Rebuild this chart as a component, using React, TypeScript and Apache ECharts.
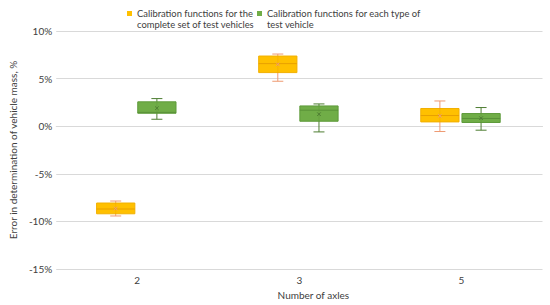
import React, { useEffect, useRef } from 'react';
import * as echarts from 'echarts';

const categories = ['2', '3', '5'];
const seriesNames = [
  'Calibration functions for the\ncomplete set of test vehicles',
  'Calibration functions for each type of\ntest vehicle',
];
// [min, Q1, median, Q3, max] in %
const completeSetBoxes = [
  [-9.43, -9.2, -8.7, -8.07, -7.86],
  [4.72, 5.63, 6.57, 7.37, 7.58],
  [-0.56, 0.45, 1.12, 1.86, 2.65],
];
const completeSetMeans = [-8.65, 6.5, 1.08];
const eachTypeBoxes = [
  [0.73, 1.36, 1.45, 2.56, 2.9],
  [-0.6, 0.52, 1.68, 2.13, 2.34],
  [-0.42, 0.39, 0.81, 1.33, 1.96],
];
const eachTypeMeans = [1.89, 1.26, 0.84];
const yMin = -15;
const yMax = 10;
const yInterval = 5;

type Colors = { fill: string; stroke: string; whisker: string; median: string };

function makeRenderItem(offsetRatio: number, widthRatio: number, c: Colors) {
  return (params: any, api: any) => {
    const idx = api.value(0);
    const band = api.size([1, 0])[0];
    const cx = api.coord([idx, 0])[0] + band * offsetRatio;
    const half = (band * widthRatio) / 2;
    const y = (k: number) => api.coord([idx, api.value(k)])[1];
    const yLo = y(1), yQ1 = y(2), yMed = y(3), yQ3 = y(4), yHi = y(5), yMean = y(6);
    const cap = 5.5;
    const m = 1.8;
    const ws = { stroke: c.whisker, lineWidth: 1 };
    return {
      type: 'group',
      children: [
        { type: 'line', shape: { x1: cx, y1: yLo, x2: cx, y2: yHi }, style: ws },
        { type: 'line', shape: { x1: cx - cap, y1: yHi, x2: cx + cap, y2: yHi }, style: ws },
        { type: 'line', shape: { x1: cx - cap, y1: yLo, x2: cx + cap, y2: yLo }, style: ws },
        {
          type: 'rect',
          shape: { x: cx - half, y: yQ3, width: half * 2, height: yQ1 - yQ3 },
          style: { fill: c.fill, stroke: c.stroke, lineWidth: 1 },
        },
        { type: 'line', shape: { x1: cx - half, y1: yMed, x2: cx + half, y2: yMed }, style: { stroke: c.median, lineWidth: 1 } },
        { type: 'line', shape: { x1: cx, y1: yQ3, x2: cx, y2: yQ1 }, style: { stroke: c.median, lineWidth: 0.6, opacity: 0.6 } },
        { type: 'line', shape: { x1: cx - m, y1: yMean - m, x2: cx + m, y2: yMean + m }, style: { stroke: c.whisker, lineWidth: 1 } },
        { type: 'line', shape: { x1: cx - m, y1: yMean + m, x2: cx + m, y2: yMean - m }, style: { stroke: c.whisker, lineWidth: 1 } },
      ],
    };
  };
}

const orange: Colors = { fill: '#FFC000', stroke: '#F2B000', whisker: '#EE9A72', median: '#E8A000' };
const green: Colors = { fill: '#70AD47', stroke: '#5E9A3A', whisker: '#4E7D32', median: '#5A9238' };

export default function App() {
  const ref = useRef<HTMLDivElement>(null);
  useEffect(() => {
    if (!ref.current) return;
    const chart = echarts.init(ref.current, undefined, { renderer: 'svg' });
    const build = (boxes: number[][], means: number[]) =>
      boxes.map((b, i) => [i, b[0], b[1], b[2], b[3], b[4], means[i]]);
    const font = 'Lato, "DejaVu Sans", sans-serif';
    const legendText = { fontFamily: font, fontSize: 9.4, color: '#404040', lineHeight: 11 };
    const legendFormatter = (name: string) => '\n' + name;
    chart.setOption({
      animation: false,
      textStyle: { fontFamily: font },
      legend: [
        {
          data: [seriesNames[0]], left: 127, top: -3, padding: 0, icon: 'rect',
          itemWidth: 5, itemHeight: 5, textStyle: legendText, formatter: legendFormatter,
        },
        {
          data: [seriesNames[1]], left: 257, top: -3, padding: 0, icon: 'rect',
          itemWidth: 5, itemHeight: 5, textStyle: legendText, formatter: legendFormatter,
        },
      ],
      grid: { left: 48, right: 7.5, top: 31, bottom: 35 },
      xAxis: {
        type: 'category',
        data: categories,
        name: 'Number of axles',
        nameLocation: 'middle',
        nameGap: 21,
        nameTextStyle: { fontFamily: font, fontSize: 10, color: '#404040', padding: [0, 0, 0, 28] },
        axisLine: { lineStyle: { color: '#D9D9D9' } },
        axisTick: { show: false },
        axisLabel: { fontFamily: font, fontSize: 10, color: '#404040', margin: 6 },
        splitLine: { show: false },
      },
      yAxis: {
        type: 'value',
        min: yMin,
        max: yMax,
        interval: yInterval,
        name: 'Error in determination of vehicle mass, %',
        nameLocation: 'middle',
        nameGap: 29,
        nameTextStyle: { fontFamily: font, fontSize: 10, color: '#404040' },
        axisLine: { show: false },
        axisTick: { show: false },
        axisLabel: { fontFamily: font, fontSize: 10, color: '#404040', margin: 4, formatter: (v: number) => `${v}%` },
        splitLine: { lineStyle: { color: '#D9D9D9' } },
      },
      series: [
        {
          name: seriesNames[0],
          type: 'custom',
          renderItem: makeRenderItem(-0.133, 0.236, orange),
          itemStyle: { color: orange.fill },
          encode: { x: 0, y: [1, 2, 3, 4, 5] },
          data: build(completeSetBoxes, completeSetMeans),
        },
        {
          name: seriesNames[1],
          type: 'custom',
          renderItem: makeRenderItem(0.121, 0.236, green),
          itemStyle: { color: green.fill },
          encode: { x: 0, y: [1, 2, 3, 4, 5] },
          data: build(eachTypeBoxes, eachTypeMeans),
        },
      ],
    });
    return () => chart.dispose();
  }, []);
  return <div ref={ref} style={{ width: 550, height: 305, position: 'absolute', left: 0, top: 0 }} />;
}
